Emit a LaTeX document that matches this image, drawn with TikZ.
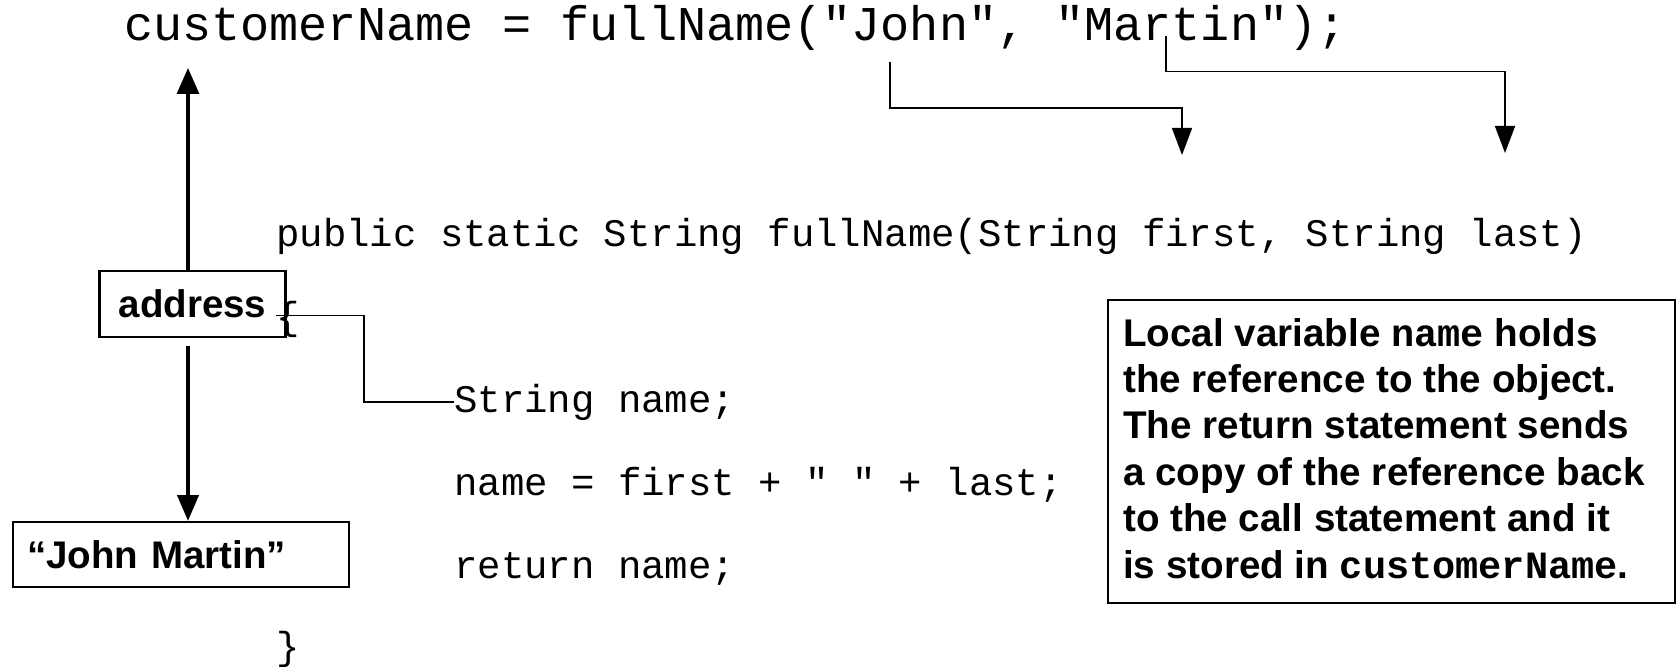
\documentclass[tikz,border=0pt]{standalone}
\usepackage{fontspec}
\setmainfont{Liberation Sans}
\setmonofont{Liberation Mono}
\usetikzlibrary{arrows.meta}

\begin{document}
\begin{tikzpicture}[x=1pt,y=-1pt,
  callcode/.style={font=\ttfamily\fontsize{48.5}{56}\selectfont, inner sep=0pt, anchor=base west},
  code/.style={font=\ttfamily\fontsize{39}{46}\selectfont, inner sep=0pt, anchor=base west},
  valbox/.style={draw, line width=2.2pt, font=\bfseries\fontsize{38.5}{44}\selectfont, inner sep=0pt},
  notebox/.style={draw, line width=2.2pt, inner sep=0pt},
  notetext/.style={font=\bfseries\fontsize{38.6}{46.4}\selectfont, inner sep=0pt, align=left},
  thinline/.style={line width=1.6pt},
  argtip/.style={-{Triangle[length=27pt,width=20pt]}},
]
\useasboundingbox (0,0) rectangle (1677,666);

% the call statement
\node[callcode] (call) at (124,41) {customerName = fullName("John", "Martin");};

% the method
\node[code] (sig)    at (276,246) {public static String fullName(String first, String last)};
\node[code] (open)   at (276,329) {\{};
\node[code] (decl)   at (454,412) {String name;};
\node[code] (assign) at (454,495) {name = first + " " + last;};
\node[code] (ret)    at (454,578) {return name;};
\node[code] (close)  at (276,659) {\}};

% reference and object
\node[valbox, minimum width=186pt, minimum height=66pt] (addr) at (192.5,304) {address};
\node[valbox, anchor=north west, minimum height=65pt, text width=308pt,
      inner xsep=14pt, align=left] (obj) at (12,521) {“John Martin”};

% explanation
\node[notebox, anchor=north west, minimum width=567pt, minimum height=303pt] (note) at (1107,299) {};
\node[notetext, anchor=north west] (notebody) at (1123,318)
  {Local variable \texttt{name} holds\\
   the reference to the object.\\
   The return statement sends\\
   a copy of the reference back\\
   to the call statement and it\\
   is stored in \texttt{customerName}.};

% arguments passed to the parameters
\coordinate (johnTap)    at (890,62);
\coordinate (johnBend)   at (1182,108);
\coordinate (johnDrop)   at (1182,155);
\coordinate (martinTap)  at (1166,36);
\coordinate (martinBend) at (1505,71.6);
\coordinate (martinDrop) at (1505,153);
\draw[thinline, argtip] (johnTap) |- (johnBend) -- (johnDrop);
\draw[thinline, argtip] (martinTap) |- (martinBend) -- (martinDrop);

% local variable holds the reference
\coordinate (addrTap) at (276,315.5);
\coordinate (elbow)   at (364,315.5);
\draw[thinline] (addrTap) -- (elbow) |- (decl.west);

% return value goes back to customerName; reference points to the object
\coordinate (upTip) at (188,68);
\draw[line width=3.2pt, -{Triangle[length=26pt,width=22pt]}] (addr.north -| upTip) -- (upTip);
\path (addr.south -| upTip) ++(0,8) coordinate (downStart);
\draw[line width=4.2pt, -{Triangle[length=26pt,width=21pt]}] (downStart) -- (obj.north -| upTip);
\end{tikzpicture}
\end{document}
